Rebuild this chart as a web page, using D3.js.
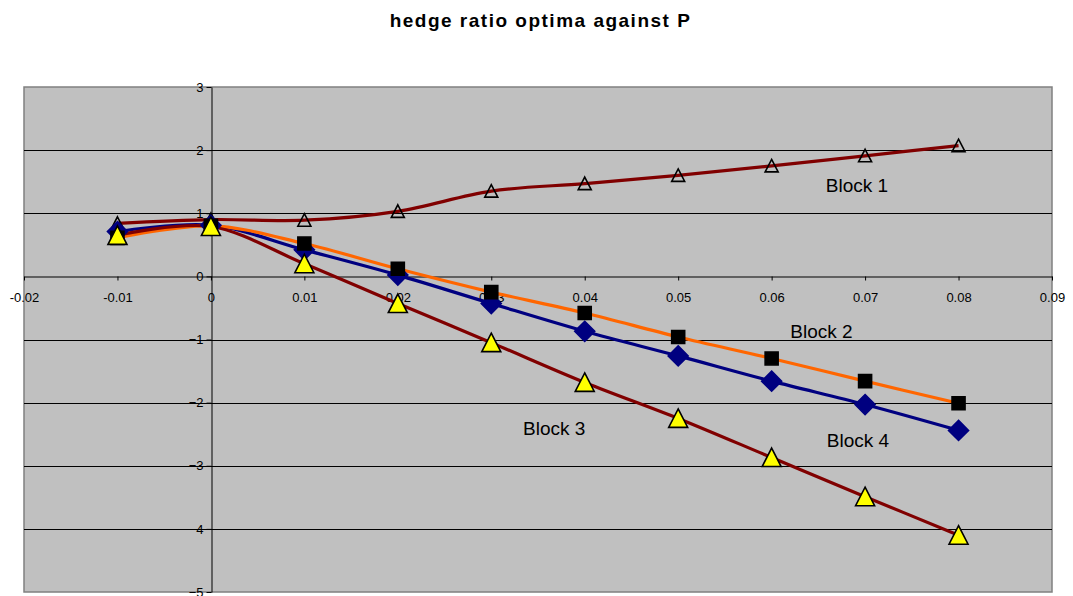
<!DOCTYPE html>
<html>
<head>
<meta charset="utf-8">
<script src="https://cdn.jsdelivr.net/npm/d3@7"></script>
<style>
  body { margin: 0; background: #fff; }
  text { font-family: "Liberation Sans", Arial, sans-serif; }
</style>
</head>
<body>
<div id="chart"></div>
<script>
// P values shared by every series
const pValues = [-0.01, 0, 0.01, 0.02, 0.03, 0.04, 0.05, 0.06, 0.07, 0.08]

const block1 = [0.84, 0.90, 0.89, 1.03, 1.35, 1.47, 1.60, 1.75, 1.91, 2.07]
const block2 = [0.61, 0.80, 0.52, 0.12, -0.25, -0.58, -0.96, -1.30, -1.66, -2.01]
const block3 = [0.65, 0.79, 0.20, -0.43, -1.05, -1.68, -2.25, -2.87, -3.49, -4.10]
const block4 = [0.71, 0.81, 0.42, 0.02, -0.43, -0.87, -1.26, -1.66, -2.03, -2.44]

const xTicks = [-0.02, -0.01, 0, 0.01, 0.02, 0.03, 0.04, 0.05, 0.06, 0.07, 0.08, 0.09]
const xTickLabels = ["-0.02", "-0.01", "0", "0.01", "0.02", "0.03", "0.04", "0.05", "0.06", "0.07", "0.08", "0.09"]
const yTicks = [3, 2, 1, 0, -1, -2, -3, -4, -5]

// text labels placed next to the lines: [name, p, value]
const blockLabels = [
  ["Block 1", 0.0658, 1.34],
  ["Block 2", 0.0620, -0.98],
  ["Block 3", 0.0334, -2.51],
  ["Block 4", 0.0659, -2.71]
]

const width = 1073
const height = 596
const margin = {top: 87, right: 21, bottom: 4, left: 24}
const innerWidth = width - margin.left - margin.right
const innerHeight = height - margin.top - margin.bottom

const svg = d3.select("#chart")
  .append("svg")
  .attr("width", width)
  .attr("height", height)

svg.append("text")
  .attr("x", width / 2 + 4)
  .attr("y", 27)
  .attr("text-anchor", "middle")
  .attr("font-size", 19)
  .attr("font-weight", "bold")
  .attr("letter-spacing", "1.5px")
  .text("hedge ratio optima against P")

const g = svg.append("g")
  .attr("transform", `translate(${margin.left},${margin.top})`)

const xScale = d3.scaleLinear().domain([-0.02, 0.09]).range([0, innerWidth])
const yScale = d3.scaleLinear().domain([-5, 3]).range([innerHeight, 0])

// plot area
g.append("rect")
  .attr("width", innerWidth)
  .attr("height", innerHeight)
  .attr("fill", "#c0c0c0")
  .attr("stroke", "#808080")
  .attr("stroke-width", 1.5)

// horizontal gridlines
g.selectAll(".grid")
  .data(yTicks.filter(v => v !== 0 && v !== 3 && v !== -5))
  .enter().append("line")
  .attr("class", "grid")
  .attr("x1", 0).attr("x2", innerWidth)
  .attr("y1", d => Math.round(yScale(d)) + 0.5)
  .attr("y2", d => Math.round(yScale(d)) + 0.5)
  .attr("stroke", "#000")
  .attr("stroke-width", 1)

// x axis sits on y = 0
const xAxis = d3.axisBottom(xScale)
  .tickValues(xTicks)
  .tickFormat((d, i) => xTickLabels[i])
  .tickSizeInner(4)
  .tickSizeOuter(0)
  .tickPadding(12)

const gX = g.append("g")
  .attr("class", "x axis")
  .attr("transform", `translate(0,${Math.round(yScale(0)) + 0.5})`)
  .call(xAxis)

// y axis sits on P = 0
const yAxis = d3.axisLeft(yScale)
  .tickValues(yTicks)
  .tickSizeInner(5)
  .tickSizeOuter(0)
  .tickPadding(3)

const gY = g.append("g")
  .attr("class", "y axis")
  .attr("transform", `translate(${Math.round(xScale(0)) + 0.5},0)`)
  .call(yAxis)

svg.selectAll(".axis path, .axis line").attr("stroke", "#000")
svg.selectAll(".axis text")
  .attr("font-family", "Liberation Sans, Arial, sans-serif")
  .attr("font-size", 13)
  .attr("fill", "#000")

// series
const series = [
  {name: "Block 1", values: block1, color: "#800000", marker: "hollowTri"},
  {name: "Block 4", values: block4, color: "#000080", marker: "diamond"},
  {name: "Block 2", values: block2, color: "#ff6600", marker: "square"},
  {name: "Block 3", values: block3, color: "#800000", marker: "yellowTri"}
]

const line = d3.line()
  .x(d => xScale(d[0]))
  .y(d => yScale(d[1]))
  .curve(d3.curveCardinal.tension(0))

series.forEach(s => {
  g.append("path")
    .datum(pValues.map((p, i) => [p, s.values[i]]))
    .attr("fill", "none")
    .attr("stroke", s.color)
    .attr("stroke-width", 3.2)
    .attr("stroke-linejoin", "round")
    .attr("d", line)
})

const markerPath = type => {
  if (type === "diamond") return "M0,-10L10,0L0,10L-10,0Z"
  if (type === "square") return "M-6.5,-6.5H6.5V6.5H-6.5Z"
  if (type === "hollowTri") return "M0,-6.5L6.5,6L-6.5,6Z"
  return "M0,-9.5L9.5,9L-9.5,9Z"
}
const markerFill = {diamond: "#000080", square: "#000", hollowTri: "none", yellowTri: "#ffff00"}
const markerStroke = {diamond: "#000080", square: "#000", hollowTri: "#000", yellowTri: "#000"}

series.forEach(s => {
  g.selectAll(`.point-${s.marker}`)
    .data(pValues.map((p, i) => [p, s.values[i]]))
    .enter().append("path")
    .attr("class", `point-${s.marker}`)
    .attr("transform", d => `translate(${xScale(d[0])},${yScale(d[1])})`)
    .attr("d", markerPath(s.marker))
    .attr("fill", markerFill[s.marker])
    .attr("stroke", markerStroke[s.marker])
    .attr("stroke-width", 1.6)
})

g.selectAll(".block-label")
  .data(blockLabels)
  .enter().append("text")
  .attr("class", "block-label")
  .attr("x", d => xScale(d[1]))
  .attr("y", d => yScale(d[2]))
  .attr("font-size", 19)
  .attr("fill", "#000")
  .text(d => d[0])
</script>
</body>
</html>
